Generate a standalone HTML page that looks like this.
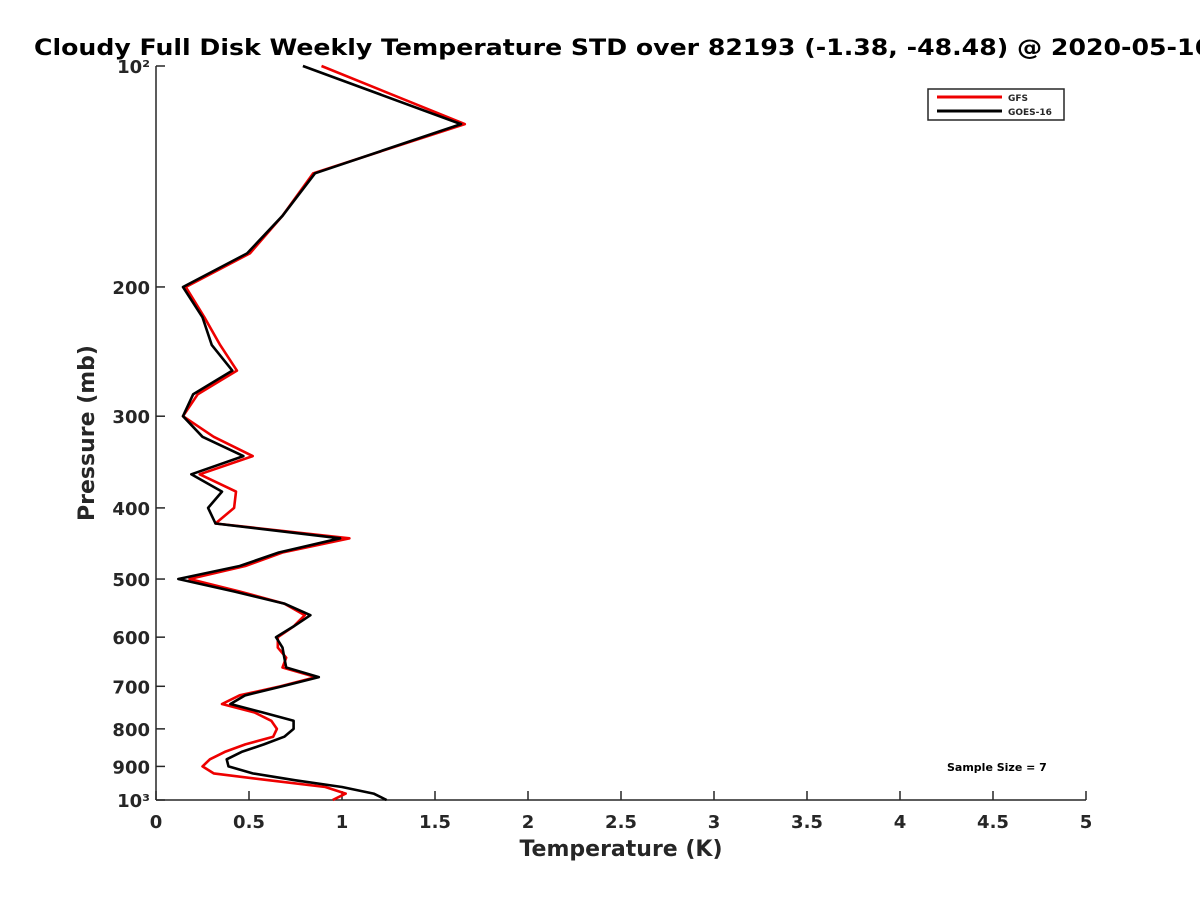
<!DOCTYPE html>
<html><head><meta charset="utf-8"><style>
body{margin:0;background:#fff;}
svg text{font-family:"DejaVu Sans","Liberation Sans",sans-serif;font-weight:bold;fill:#262626;}
</style></head><body>
<svg id="chart" width="1200" height="900" xmlns="http://www.w3.org/2000/svg">
<rect width="1200" height="900" fill="#fff"/>
<text x="34" y="55" font-size="22" textLength="1178" lengthAdjust="spacingAndGlyphs" style="fill:#000">Cloudy Full Disk Weekly Temperature STD over 82193 (-1.38, -48.48) @ 2020-05-16</text>
<g id="axes"></g>
<g id="series"></g>
<g>
<rect x="928" y="89" width="136" height="31" fill="#fff" stroke="#262626" stroke-width="1.5"/>
<line x1="937" y1="97" x2="1002" y2="97" stroke="#e00" stroke-width="3"/>
<text x="1008" y="101" font-size="9">GFS</text>
<line x1="937" y1="111" x2="1002" y2="111" stroke="#000" stroke-width="3"/>
<text x="1008" y="115" font-size="9">GOES-16</text>
</g>
<text x="947" y="771" font-size="11" style="fill:#000">Sample Size = 7</text>
<text x="621" y="856" font-size="22" text-anchor="middle">Temperature (K)</text>
<text transform="translate(94,433) rotate(-90)" font-size="22" text-anchor="middle">Pressure (mb)</text>
</svg>
<script>
const pressures=[100,120,140,160,180,200,220,240,260,280,300,320,340,360,380,400,420,440,460,480,500,520,540,560,580,600,620,640,660,680,700,720,740,760,780,800,820,840,860,880,900,920,940,960,980,1000];
const gfsValues=[0.89,1.66,0.845,0.68,0.505,0.16,0.26,0.345,0.435,0.225,0.145,0.31,0.52,0.235,0.43,0.42,0.32,1.04,0.68,0.48,0.18,0.45,0.69,0.80,0.74,0.655,0.655,0.70,0.68,0.86,0.67,0.45,0.355,0.53,0.62,0.65,0.63,0.48,0.37,0.29,0.25,0.31,0.61,0.91,1.02,0.95];
const goesValues=[0.79,1.64,0.855,0.68,0.49,0.145,0.25,0.30,0.41,0.20,0.145,0.25,0.47,0.19,0.355,0.28,0.32,0.99,0.66,0.45,0.12,0.42,0.69,0.83,0.74,0.645,0.68,0.69,0.70,0.875,0.68,0.48,0.40,0.575,0.74,0.74,0.69,0.58,0.46,0.38,0.39,0.52,0.75,1.0,1.17,1.24];
const xTicks=[0,0.5,1,1.5,2,2.5,3,3.5,4,4.5,5];
const xTickLabels=["0","0.5","1","1.5","2","2.5","3","3.5","4","4.5","5"];
const yTicks=[100,200,300,400,500,600,700,800,900,1000];
const yTickLabels=["10²","200","300","400","500","600","700","800","900","10³"];
const L=156,R=1086,T=66,B=800;
const xs=v=>L+(v-0)/(5-0)*(R-L);
const ys=p=>T+Math.log10(p/100)*(B-T);
const NS="http://www.w3.org/2000/svg";
function mk(tag,attrs,parent){const e=document.createElementNS(NS,tag);for(const k in attrs)e.setAttribute(k,attrs[k]);parent.appendChild(e);return e;}
const ax=document.getElementById('axes');
let e=mk('line',{x1:L,y1:T,x2:L,y2:B,stroke:'#262626','stroke-width':1.5},ax);


e=mk('line',{x1:L,y1:B,x2:R,y2:B,stroke:'#262626','stroke-width':1.5},ax);


xTicks.forEach((v,i)=>{
 const x=xs(v);
 let t=mk('line',{x1:x,y1:B,x2:x,y2:B-9,stroke:'#262626','stroke-width':1.5},ax);
 
 
 let l=mk('text',{x:x,y:B+28,'font-size':18,'text-anchor':'middle'},ax);
 l.textContent=xTickLabels[i];
 
 
});
yTicks.forEach((p,i)=>{
 const y=ys(p);
 let t=mk('line',{x1:L,y1:y,x2:L+9,y2:y,stroke:'#262626','stroke-width':1.5},ax);
 
 
 let l=mk('text',{x:L-6,y:y+7,'font-size':18,'text-anchor':'end'},ax);
 l.textContent=yTickLabels[i];
 
 
});
const sg=document.getElementById('series');
function line(vals,color,name){
 const pts=vals.map((v,i)=>xs(v).toFixed(1)+','+ys(pressures[i]).toFixed(1)).join(' ');
 const pl=mk('polyline',{points:pts,fill:'none',stroke:color,'stroke-width':2.6,'stroke-linejoin':'round'},sg);
 
 
}
line(gfsValues,'#e00','gfs-line');
line(goesValues,'#000','goes16-line');
</script>
</body></html>
